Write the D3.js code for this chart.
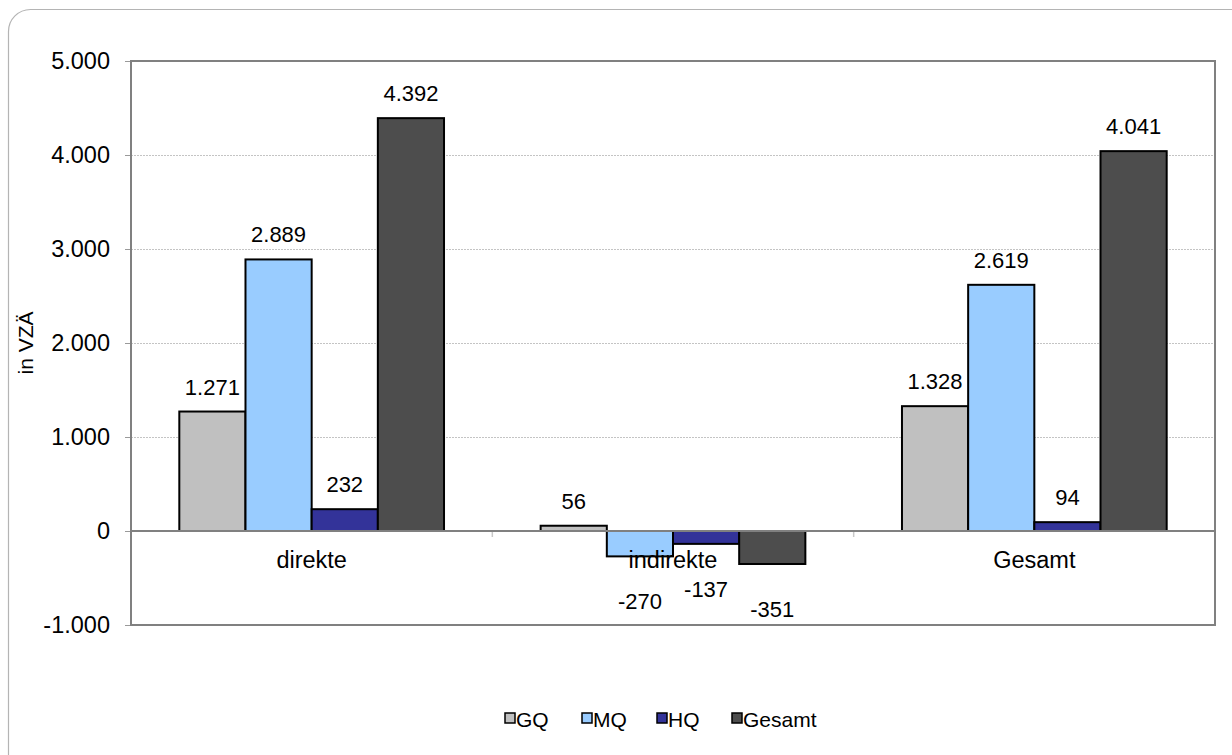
<!DOCTYPE html>
<html>
<head>
<meta charset="utf-8">
<script src="https://cdn.jsdelivr.net/npm/d3@7"></script>
<style>
  html, body { margin: 0; padding: 0; background: #fff; }
  svg { display: block; font-family: "Liberation Sans", Arial, sans-serif; }
</style>
</head>
<body>
<svg id="chart" width="1232" height="755"></svg>
<script>
// Beschäftigungseffekte nach Qualifikationsstufe (in VZÄ)
const categories = ["direkte", "indirekte", "Gesamt"];
const seriesNames = ["GQ", "MQ", "HQ", "Gesamt"];
const valuesGQ = [1271, 56, 1328];
const valuesMQ = [2889, -270, 2619];
const valuesHQ = [232, -137, 94];
const valuesGesamt = [4392, -351, 4041];
const yTicks = [-1000, 0, 1000, 2000, 3000, 4000, 5000];
const yTitle = "in VZÄ";

const colors = ["#C0C0C0", "#99CCFF", "#333399", "#4D4D4D"];
const seriesValues = [valuesGQ, valuesMQ, valuesHQ, valuesGesamt];

const de = d3.formatLocale({ decimal: ",", thousands: ".", grouping: [3], currency: ["", " €"], minus: "-" });
const fmt = de.format(",d");

const svg = d3.select("#chart");

// outer rounded frame
svg.append("rect")
  .attr("x", 8.5).attr("y", 9.5)
  .attr("width", 1250).attr("height", 770)
  .attr("rx", 22).attr("ry", 22)
  .attr("fill", "#fff")
  .attr("stroke", "#b4b4b4").attr("stroke-width", 1.2);

const plot = { left: 131, top: 61, right: 1215, bottom: 625 };

const y = d3.scaleLinear().domain([-1000, 5000]).range([plot.bottom, plot.top]);
const x0 = d3.scaleBand().domain(categories).range([plot.left, plot.right]).padding(0);
const x1 = d3.scaleBand().domain(seriesNames).range([0, x0.bandwidth()]).paddingInner(0).paddingOuter(0.73);

// plot area background
svg.append("rect")
  .attr("x", plot.left).attr("y", plot.top)
  .attr("width", plot.right - plot.left).attr("height", plot.bottom - plot.top)
  .attr("fill", "#fff");

// horizontal gridlines
svg.append("g")
  .selectAll("line")
  .data(yTicks.filter(t => t !== 0 && t !== -1000 && t !== 5000))
  .join("line")
  .attr("x1", plot.left).attr("x2", plot.right)
  .attr("y1", d => y(d) + 0.5).attr("y2", d => y(d) + 0.5)
  .attr("stroke", "#c4c4c4").attr("stroke-width", 1)
  .attr("stroke-dasharray", "2,1");

// y axis
const yAxis = d3.axisLeft(y).tickValues(yTicks).tickSize(6).tickPadding(15).tickFormat(fmt);
const gy = svg.append("g").attr("transform", `translate(${plot.left},0)`).call(yAxis);
gy.select(".domain").remove();
gy.selectAll(".tick line").attr("stroke", "#9a9a9a").attr("stroke-width", 1);
gy.selectAll(".tick text").attr("font-size", 23.5).attr("fill", "#000")
  .attr("font-family", "Liberation Sans, Arial, sans-serif");

// category ticks on the zero line
svg.append("g")
  .selectAll("line")
  .data(categories.slice(1))
  .join("line")
  .attr("x1", d => x0(d)).attr("x2", d => x0(d))
  .attr("y1", y(0)).attr("y2", y(0) + 6)
  .attr("stroke", "#c8c8c8").attr("stroke-width", 1.5);

// bars
const groups = svg.append("g")
  .selectAll("g")
  .data(categories)
  .join("g")
  .attr("transform", d => `translate(${x0(d)},0)`);

const barData = (cat, ci) => seriesNames.map((s, si) => ({ s, si, v: seriesValues[si][ci] }));

groups.selectAll("rect")
  .data((d, i) => barData(d, i))
  .join("rect")
  .attr("x", d => x1(d.s))
  .attr("width", x1.bandwidth())
  .attr("y", d => y(Math.max(0, d.v)))
  .attr("height", d => Math.abs(y(d.v) - y(0)))
  .attr("fill", d => colors[d.si])
  .attr("stroke", "#000").attr("stroke-width", 2);

// zero line
svg.append("line")
  .attr("x1", plot.left).attr("x2", plot.right)
  .attr("y1", y(0)).attr("y2", y(0))
  .attr("stroke", "#808080").attr("stroke-width", 2);

// plot frame
svg.append("rect")
  .attr("x", plot.left).attr("y", plot.top)
  .attr("width", plot.right - plot.left).attr("height", plot.bottom - plot.top)
  .attr("fill", "none").attr("stroke", "#808080").attr("stroke-width", 2);

// category labels
svg.append("g")
  .selectAll("text")
  .data(categories)
  .join("text")
  .attr("x", d => x0(d) + x0.bandwidth() / 2)
  .attr("y", y(0) + 37)
  .attr("text-anchor", "middle")
  .attr("font-size", 23.5)
  .text(d => d);

// value labels
groups.selectAll("text.val")
  .data((d, i) => barData(d, i))
  .join("text")
  .attr("class", "val")
  .attr("x", d => x1(d.s) + x1.bandwidth() / 2)
  .attr("y", d => d.v >= 0 ? y(d.v) - 17 : y(d.v) + 53)
  .attr("text-anchor", "middle")
  .attr("font-size", 22)
  .text(d => fmt(d.v));

// y axis title
svg.append("text")
  .attr("transform", `translate(33,${(plot.top + plot.bottom) / 2}) rotate(-90)`)
  .attr("text-anchor", "middle")
  .attr("font-size", 21)
  .text(yTitle);

// legend
const legendX = [501, 578, 653, 728];
const legend = svg.append("g")
  .selectAll("g")
  .data(seriesNames)
  .join("g")
  .attr("transform", (d, i) => `translate(${legendX[i]},719)`);
legend.append("rect")
  .attr("x", 4).attr("y", -6).attr("width", 10).attr("height", 10)
  .attr("fill", (d, i) => colors[i]).attr("stroke", "#000").attr("stroke-width", 1.5);
legend.append("text")
  .attr("x", 15).attr("y", 7.5)
  .attr("font-size", 21)
  .text(d => d);
</script>
</body>
</html>
